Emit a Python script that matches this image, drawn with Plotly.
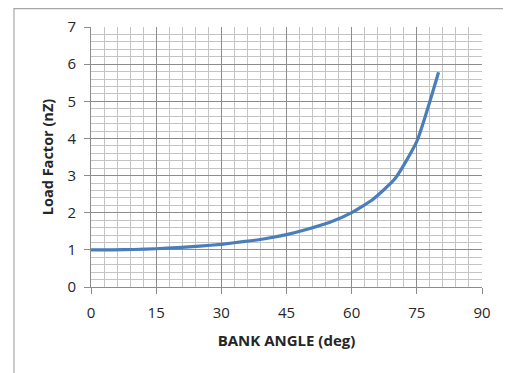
import plotly.graph_objects as go

bank_angle = [0, 5, 10, 15, 20, 25, 30, 35, 40, 45, 50, 55, 60, 65, 70, 75, 80]
load_factor = [1.0, 1.0, 1.01, 1.03, 1.06, 1.1, 1.15, 1.22, 1.3, 1.41, 1.56, 1.74, 2.0, 2.37, 2.92, 3.92, 5.78]

x_major_step = 15
x_minor_step = 3
y_major_step = 1
y_minor_step = 0.2

fig = go.Figure()
fig.add_trace(go.Scatter(
    x=bank_angle, y=load_factor, mode="lines",
    line=dict(color="#4A7EBB", width=3.2, shape="spline", smoothing=0.5),
    showlegend=False, hoverinfo="skip",
))

font_family = "Open Sans, Noto Sans, Liberation Sans, sans-serif"
txt = "#262626"

fig.update_layout(
    width=503, height=365,
    margin=dict(l=83, r=29, t=19, b=86),
    paper_bgcolor="white", plot_bgcolor="white",
    font=dict(family=font_family, color=txt, size=15),
    xaxis=dict(
        range=[0, 90], tickmode="linear", tick0=0, dtick=x_major_step,
        showgrid=True, gridcolor="#8c8c8c", gridwidth=1,
        minor=dict(tickmode="linear", tick0=0, dtick=x_minor_step, showgrid=True,
                   gridcolor="#c4c4c4", gridwidth=1, ticks=""),
        ticks="outside", ticklen=6, tickcolor="#8c8c8c",
        showline=True, linecolor="#8c8c8c", linewidth=1,
        zeroline=False, fixedrange=True, automargin=False,
        ticklabelstandoff=6,
        title=dict(text="<b>BANK ANGLE (deg)</b>", font=dict(size=15, color=txt), standoff=14),
        tickfont=dict(size=15, color=txt),
    ),
    yaxis=dict(
        range=[0, 7], tickmode="linear", tick0=0, dtick=y_major_step,
        showgrid=True, gridcolor="#8c8c8c", gridwidth=1,
        minor=dict(tickmode="linear", tick0=0, dtick=y_minor_step, showgrid=True,
                   gridcolor="#c4c4c4", gridwidth=1, ticks=""),
        ticks="outside", ticklen=6, tickcolor="#8c8c8c",
        showline=True, linecolor="#8c8c8c", linewidth=1,
        zeroline=False, fixedrange=True, automargin=False,
        ticklabelstandoff=5,
        title=dict(text="<b>Load Factor (nZ)</b>", font=dict(size=14.5, color=txt), standoff=10),
        tickfont=dict(size=15, color=txt),
    ),
    shapes=[
        dict(type="path", xref="paper", yref="paper",
             path="M -0.197 -0.4 L -0.197 1.071 L 1.1 1.071",
             line=dict(color="#a6a6a6", width=1.2)),
    ],
)

fig.write_html("out.html")
